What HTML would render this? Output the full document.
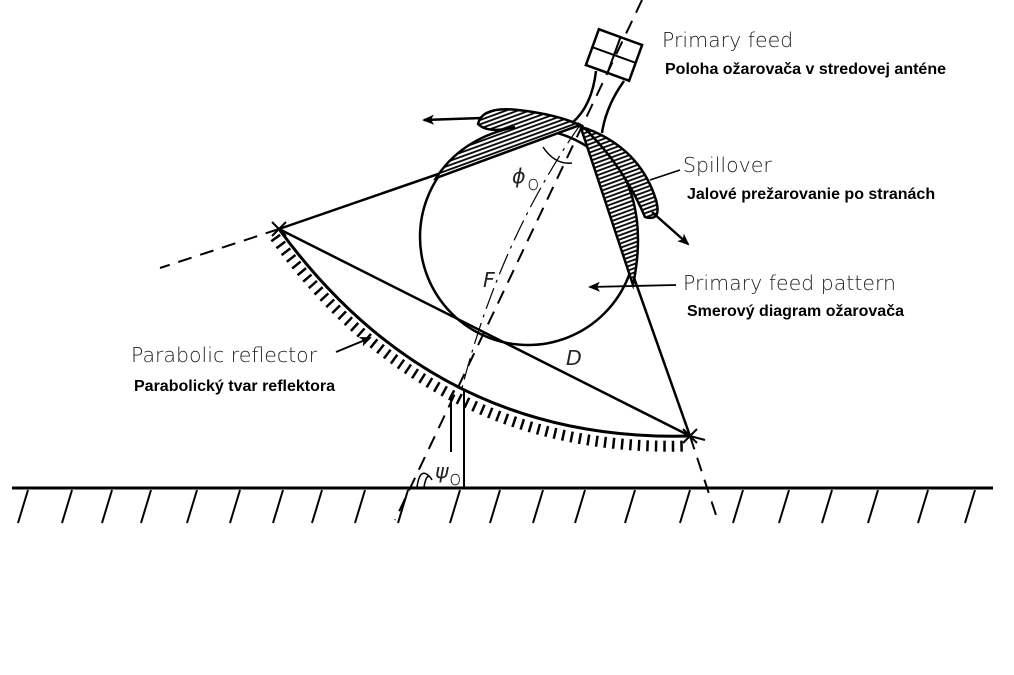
<!DOCTYPE html>
<html><head><meta charset="utf-8"><style>
html,body{margin:0;padding:0;background:#fff}
svg{display:block}
.l{font-family:"DejaVu Sans","Liberation Sans",sans-serif;font-size:20.5px;fill:#222;font-weight:300}
.b{font-family:"Liberation Sans",sans-serif;font-size:16px;font-weight:bold;fill:#000}
</style></head><body>
<svg width="1014" height="675" viewBox="0 0 1014 675" xmlns="http://www.w3.org/2000/svg">
<defs>
<pattern id="h" width="4" height="4" patternUnits="userSpaceOnUse" patternTransform="rotate(-20)">
<rect width="4" height="4" fill="#fff"/><line x1="0" y1="1" x2="4" y2="1" stroke="#000" stroke-width="1.8"/>
</pattern>
<marker id="ar" markerWidth="12" markerHeight="10" refX="10" refY="5" orient="auto" markerUnits="userSpaceOnUse">
<path d="M0,0 L12,5 L0,10 L3,5 Z" fill="#000"/></marker>
</defs>
<g fill="none" stroke="#000">
<line x1="12" y1="488" x2="993" y2="488" stroke-width="3"/>
<g stroke-width="2">
<line x1="28" y1="490" x2="18" y2="523"/><line x1="72" y1="490" x2="62" y2="523"/><line x1="112" y1="490" x2="102" y2="523"/><line x1="151" y1="490" x2="141" y2="523"/><line x1="197" y1="490" x2="187" y2="523"/><line x1="240" y1="490" x2="230" y2="523"/><line x1="283" y1="490" x2="273" y2="523"/><line x1="322" y1="490" x2="312" y2="523"/><line x1="365" y1="490" x2="355" y2="523"/><line x1="408" y1="490" x2="398" y2="523"/><line x1="460" y1="490" x2="450" y2="523"/><line x1="500" y1="490" x2="490" y2="523"/><line x1="543" y1="490" x2="533" y2="523"/><line x1="585" y1="490" x2="575" y2="523"/><line x1="635" y1="490" x2="625" y2="523"/><line x1="690" y1="490" x2="680" y2="523"/><line x1="743" y1="490" x2="733" y2="523"/><line x1="789" y1="490" x2="779" y2="523"/><line x1="832" y1="490" x2="822" y2="523"/><line x1="878" y1="490" x2="868" y2="523"/><line x1="928" y1="490" x2="918" y2="523"/><line x1="975" y1="490" x2="965" y2="523"/>
</g>
<line x1="642" y1="0" x2="395" y2="520" stroke-width="2" stroke-dasharray="14 9"/>
<line x1="279" y1="229" x2="160" y2="268" stroke-width="2" stroke-dasharray="14 9"/>
<line x1="690" y1="436" x2="716" y2="515" stroke-width="2" stroke-dasharray="14 9"/>
<path d="M580,125 Q500,240 462,388" stroke-width="1.2" stroke-dasharray="22 6 3 6"/>
<circle cx="528" cy="237" r="108" stroke-width="2.5"/>
<polyline points="279,229 580,125 690,436 279,229" stroke-width="2.5"/>
<path d="M279,229 Q435,443 690,436" stroke-width="3"/>
<path d="M275,237 Q431,453 686,446" stroke-width="11" stroke-dasharray="2.5 6"/>
<path d="M272,222 L286,236 M286,222 L272,236 M683,429 L697,443 M697,429 L683,443 M690,436 L705,440" stroke-width="2"/>
<line x1="464" y1="390" x2="464" y2="488" stroke-width="2"/>
<line x1="451" y1="395" x2="451" y2="452" stroke-width="2"/>
<path d="M417,487 Q420,466 430,477 M424,487 Q427,470 432,480" stroke-width="1.5"/>
<path d="M580,125 L436,178 Q462,138 515,127 Q488,134 478,124 Q482,106 518,110 Q555,114 580,125 Z" fill="url(#h)" stroke-width="2.5"/>
<path d="M580,125 Q655,180 633,285 Z" fill="url(#h)" stroke-width="2.5"/>
<path d="M585,128 Q640,148 656,200 Q662,222 645,217 Q625,170 592,136 Z" fill="url(#h)" stroke-width="2.5"/>
<g transform="translate(614,55) rotate(20)">
<rect x="-23" y="-19" width="46" height="38" stroke-width="2.5"/>
<line x1="0" y1="-19" x2="0" y2="19" stroke-width="2"/>
<line x1="-23" y1="0" x2="23" y2="0" stroke-width="2"/>
</g>
<path d="M596,71 Q592,106 572,123 M624,81 Q606,106 602,133" stroke-width="2.5"/>
<line x1="482" y1="118" x2="424" y2="120" stroke-width="2.5" marker-end="url(#ar)"/>
<line x1="652" y1="212" x2="688" y2="244" stroke-width="2.5" marker-end="url(#ar)"/>
<line x1="676" y1="285" x2="590" y2="287" stroke-width="1.8" marker-end="url(#ar)"/>
<line x1="336" y1="352" x2="370" y2="338" stroke-width="1.8" marker-end="url(#ar)"/>
<line x1="680" y1="170" x2="650" y2="180" stroke-width="1.5"/>
<path d="M543,147 Q555,165 572,163" stroke-width="1.5"/>
</g>
<text x="512" y="183" class="l" font-style="italic" font-size="20">ϕ</text><text x="527" y="190" class="l" font-size="14">o</text>
<text x="483" y="287" class="l" font-style="italic">F</text>
<text x="566" y="365" class="l" font-style="italic">D</text>
<text x="435" y="478" class="l" font-style="italic">ψ</text><text x="449" y="485" class="l" font-size="14">o</text>
<text x="662" y="47" class="l">Primary feed</text>
<text x="665" y="74" class="b">Poloha ožarovača v stredovej anténe</text>
<text x="683" y="172" class="l">Spillover</text>
<text x="687" y="199" class="b">Jalové prežarovanie po stranách</text>
<text x="683" y="290" class="l">Primary feed pattern</text>
<text x="687" y="316" class="b">Smerový diagram ožarovača</text>
<text x="131" y="362" class="l">Parabolic reflector</text>
<text x="134" y="391" class="b">Parabolický tvar reflektora</text>
</svg>
</body></html>
